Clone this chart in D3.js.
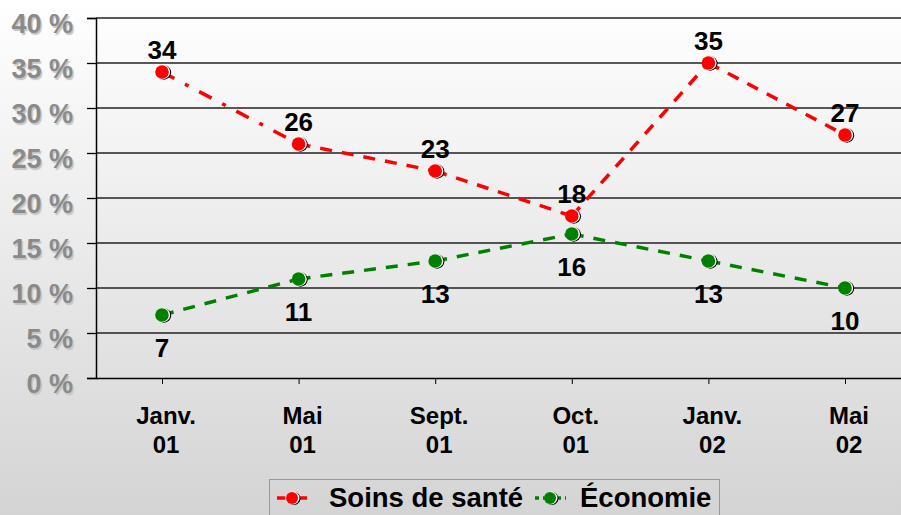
<!DOCTYPE html>
<html><head><meta charset="utf-8">
<script src="https://cdn.jsdelivr.net/npm/d3@7"></script>
<style>body{margin:0;}svg{display:block;}</style>
</head><body>
<script>
const categories = [["Janv.","01"],["Mai","01"],["Sept.","01"],["Oct.","01"],["Janv.","02"],["Mai","02"]];
const soins = [34, 26, 23, 18, 35, 27];
const economie = [7, 11, 13, 16, 13, 10];
const yTicks = [0,5,10,15,20,25,30,35,40];
const seriesNames = ["Soins de santé","Économie"];

(function(){
const W=901,H=515;
const FONT="Liberation Sans, Arial, sans-serif";
const svg=d3.select("body").append("svg").attr("width",W).attr("height",H);
const defs=svg.append("defs");
const g1=defs.append("linearGradient").attr("id","bg").attr("x1",0).attr("y1",0).attr("x2",0).attr("y2",1);
g1.append("stop").attr("offset","0%").attr("stop-color","#ffffff");
g1.append("stop").attr("offset","100%").attr("stop-color","#d4d4d4");
svg.append("rect").attr("width",W).attr("height",H).attr("fill","url(#bg)");

const mLeft=96, mTop=18, mBottom=378;
const x=d3.scalePoint().domain(d3.range(categories.length)).range([162,845]);
const y=d3.scaleLinear().domain([0,40]).range([mBottom,mTop]);

// gridlines
svg.append("g").selectAll("line").data(yTicks.filter(d=>d>0)).join("line")
 .attr("x1",mLeft).attr("x2",W).attr("y1",d=>y(d)).attr("y2",d=>y(d))
 .attr("stroke","#222").attr("stroke-width",1.3);
// y axis
const ya=svg.append("g").attr("transform",`translate(${mLeft},0)`)
 .call(d3.axisLeft(y).tickValues(yTicks).tickSize(9).tickFormat(d=>d+" %"));
ya.select(".domain").attr("stroke","#000").attr("stroke-width",1.5);
ya.selectAll(".tick line").attr("stroke","#000").attr("stroke-width",1.3);
ya.selectAll(".tick text").attr("x",-23).attr("dy","0.55em").attr("fill","#8a8a8a")
 .attr("font-family",FONT).attr("font-weight","bold").attr("font-size","27px")
 .style("text-shadow","1.5px 1.5px 1px #c4c4c4");
// x axis
const xa=svg.append("g").attr("transform",`translate(0,${mBottom})`)
 .call(d3.axisBottom(x).tickSize(6).tickFormat(""));
xa.select(".domain").attr("d",`M${mLeft},0.5H${W}`).attr("stroke","#000").attr("stroke-width",1.5);
xa.selectAll(".tick line").attr("stroke","#000");
const xl=svg.append("g").selectAll("text").data(categories).join("text")
 .attr("x",(d,i)=>x(i)+4).attr("y",424).attr("text-anchor","middle")
 .attr("font-family",FONT).attr("font-weight","bold").attr("font-size","24px").attr("fill","#000");
xl.append("tspan").attr("x",(d,i)=>x(i)+4).text(d=>d[0]);
xl.append("tspan").attr("x",(d,i)=>x(i)+4).attr("dy",29).text(d=>d[1]);

function drawSeries(vals,color,dashes,labelDy){
  const g=svg.append("g");
  for(let i=0;i<vals.length-1;i++){
    g.append("line").attr("x1",x(i)).attr("y1",y(vals[i])).attr("x2",x(i+1)).attr("y2",y(vals[i+1]))
     .attr("stroke",color).attr("stroke-width",3.5).attr("stroke-dasharray",dashes[i]);
  }
  vals.forEach((v,i)=>{
    g.append("circle").attr("cx",x(i)+2).attr("cy",y(v)+0.5).attr("r",7.2).attr("fill","#000");
    g.append("circle").attr("cx",x(i)+1).attr("cy",y(v)).attr("r",7.2).attr("fill","#fff");
    g.append("circle").attr("cx",x(i)).attr("cy",y(v)).attr("r",6.8).attr("fill",color);
    g.append("text").attr("x",x(i)).attr("y",y(v)+labelDy).attr("text-anchor","middle")
     .attr("font-family",FONT).attr("font-weight","bold").attr("font-size","26px")
     .text(v);
  });
}
drawSeries(soins,"#ff0000",["14,12,4,12","12,10","12,10","12,10","12,10"],-13);
drawSeries(economie,"#008000",["12,10","12,10","12,10","12,10","12,10"],42);

// legend
const lg=svg.append("g");
lg.append("rect").attr("x",269.5).attr("y",479.5).attr("width",450).attr("height",40)
 .attr("fill","none").attr("stroke","#999").attr("stroke-width",1);
function legendItem(x0,color,dash,name,tx){
  lg.append("line").attr("x1",x0).attr("x2",x0+31).attr("y1",498).attr("y2",498)
   .attr("stroke",color).attr("stroke-width",3.5).attr("stroke-dasharray",dash);
  lg.append("circle").attr("cx",x0+17).attr("cy",498.5).attr("r",6.5).attr("fill","#000");
  lg.append("circle").attr("cx",x0+16).attr("cy",498).attr("r",6.5).attr("fill","#fff");
  lg.append("circle").attr("cx",x0+15).attr("cy",498).attr("r",6).attr("fill",color);
  lg.append("text").attr("x",tx).attr("y",507).attr("font-family",FONT)
   .attr("font-weight","bold").attr("font-size","27.5px").attr("fill","#000").text(name);
}
legendItem(277,"#ff0000","8,4,18,4",seriesNames[0],329);
legendItem(535,"#008000","4,4,18,4",seriesNames[1],580);
})();
</script>
</body></html>
